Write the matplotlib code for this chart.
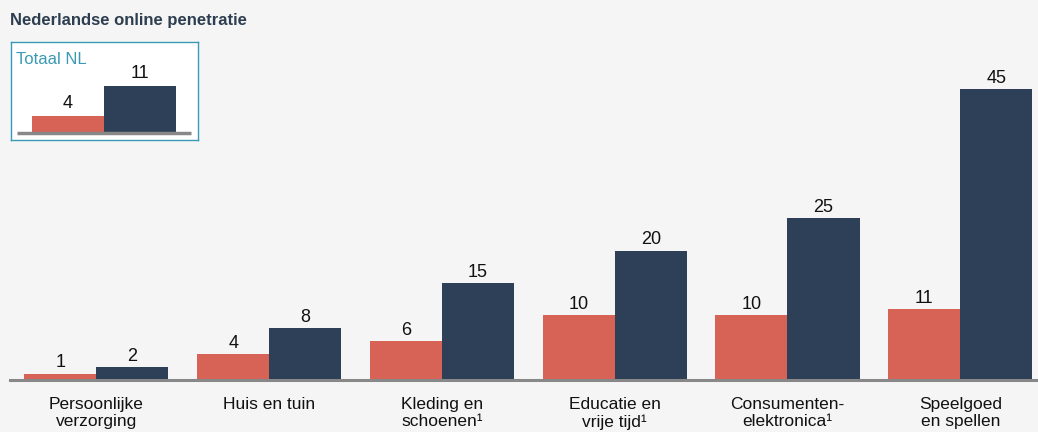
import matplotlib.pyplot as plt
import numpy as np

plt.rcParams['font.family'] = ['Liberation Sans', 'DejaVu Sans']

categories = ['Persoonlijke\nverzorging', 'Huis en tuin', 'Kleding en\nschoenen¹',
              'Educatie en\nvrije tijd¹', 'Consumenten-\nelektronica¹', 'Speelgoed\nen spellen']
red_vals = [1, 4, 6, 10, 10, 11]
navy_vals = [2, 8, 15, 20, 25, 45]
total_red = 4
total_navy = 11

red = '#d66356'
navy = '#2d4057'
teal = '#3a9ab5'
bg = '#f5f5f5'

fig = plt.figure(figsize=(10.38, 4.32), dpi=100, facecolor=bg)
W, H = 1038, 432

# main axes: left 10px, right 1038px, baseline at y=380
ax = fig.add_axes([10 / W, (H - 380) / H, 1028 / W, 323.5 / H])
ax.set_facecolor(bg)
x = np.arange(len(categories))
bw = 0.417
ax.bar(x - bw / 2, red_vals, bw, color=red)
ax.bar(x + bw / 2, navy_vals, bw, color=navy)
for i in range(len(x)):
    ax.annotate(str(red_vals[i]), (x[i] - bw / 2, red_vals[i]), xytext=(0, 4.5), textcoords='offset points',
                ha='center', va='baseline', fontsize=13, color='#111111')
    ax.annotate(str(navy_vals[i]), (x[i] + bw / 2, navy_vals[i]), xytext=(0, 4.5), textcoords='offset points',
                ha='center', va='baseline', fontsize=13, color='#111111')
ax.set_xlim(-0.5, 5.45)
ax.set_ylim(0, 50)
for s in ['top', 'right', 'left']:
    ax.spines[s].set_visible(False)
ax.spines['bottom'].set_color('#888888')
ax.spines['bottom'].set_linewidth(2.2)
ax.set_yticks([])
ax.set_xticks(x)
ax.set_xticklabels(categories, fontsize=12.5, color='#111111', linespacing=1.22)
ax.tick_params(axis='x', length=0, pad=12)

fig.text(10 / W, 1 - 21 / H, 'Nederlandse online penetratie', fontsize=12, fontweight='bold',
         color='#2d3e50', va='center', ha='left')

# inset "Totaal NL"
ins = fig.add_axes([11 / W, (H - 140) / H, 187 / W, 98 / H])
ins.set_facecolor('white')
for s in ins.spines.values():
    s.set_color(teal)
    s.set_linewidth(1)
ins.bar(-0.5, total_red, 1, color=red)
ins.bar(0.5, total_navy, 1, color=navy)
ins.plot([-1.21, 1.21], [0, 0], color='#888888', linewidth=2.5, solid_capstyle='butt')
ins.annotate(str(total_red), (-0.5, total_red), xytext=(0, 5.5), textcoords='offset points',
             ha='center', va='baseline', fontsize=13, color='#111111')
ins.annotate(str(total_navy), (0.5, total_navy), xytext=(0, 5.5), textcoords='offset points',
             ha='center', va='baseline', fontsize=13, color='#111111')
ins.set_xlim(-1.29, 1.31)
ins.set_ylim(-1.64, 21.3)
ins.set_xticks([])
ins.set_yticks([])
ins.text(5 / 187, 1 - 22 / 98, 'Totaal NL', transform=ins.transAxes, fontsize=12, color=teal,
         va='baseline', ha='left')

fig.savefig('out.png', dpi=100, facecolor=bg)
